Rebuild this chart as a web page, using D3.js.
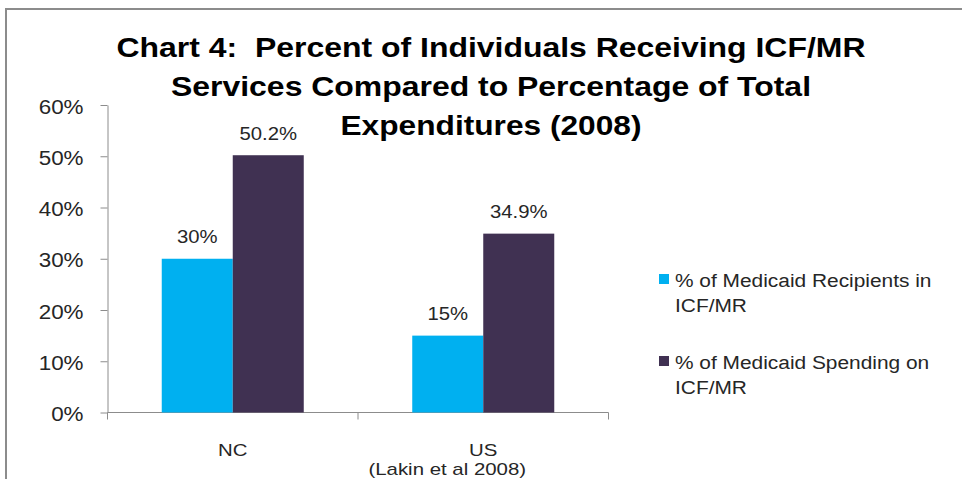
<!DOCTYPE html>
<html><head><meta charset="utf-8">
<script src="https://cdn.jsdelivr.net/npm/d3@7"></script>
<style>body{margin:0;background:#fff}svg{display:block}text{font-family:"Liberation Sans",Arial,sans-serif}</style>
</head><body><svg id="c" width="962" height="479"></svg>
<script>
const categories = ["NC", "US"];
const categorySub = ["", "(Lakin et al 2008)"];
const seriesNames = ["% of Medicaid Recipients in ICF/MR", "% of Medicaid Spending on ICF/MR"];
const recipients = [0.30, 0.15];
const spending = [0.502, 0.349];
const valueLabels = [["30%", "15%"], ["50.2%", "34.9%"]];
const yTicks = [0, 0.1, 0.2, 0.3, 0.4, 0.5, 0.6];
const titleLines = ["Chart 4:  Percent of Individuals Receiving ICF/MR", "Services Compared to Percentage of Total", "Expenditures (2008)"];
const legendLines = [["% of Medicaid Recipients in", "ICF/MR"], ["% of Medicaid Spending on", "ICF/MR"]];
const colors = ["#00B0F0", "#403152"];

const series = [recipients, spending];
const svg = d3.select("#c");
const K = 1.16;
function stretch(sel, k) {
  sel.each(function () {
    const w = this.getComputedTextLength();
    this.setAttribute("textLength", w * k);
    this.setAttribute("lengthAdjust", "spacingAndGlyphs");
  });
}

// frame
svg.append("path").attr("d", "M6,479V9H962").attr("fill", "none").attr("stroke", "#8c8c8c").attr("stroke-width", 2);

const left = 107.5, right = 608.5;
const y = d3.scaleLinear().domain([0, 0.6]).range([412.5, 105]);
const x0 = d3.scaleBand().domain(categories).range([left, right]).padding(0);
const x1 = d3.scaleBand().domain(d3.range(series.length)).range([0, x0.bandwidth()]).paddingInner(0).paddingOuter(0.764);

// y axis
const ya = svg.append("g").attr("transform", `translate(${left},0)`)
  .call(d3.axisLeft(y).tickValues(yTicks).tickFormat(d3.format(".0%")).tickSize(7).tickSizeOuter(0).tickPadding(17));
ya.select(".domain").attr("stroke", "#8c8c8c");
ya.selectAll(".tick line").attr("stroke", "#8c8c8c");
ya.selectAll(".tick text").attr("font-size", 20).attr("fill", "#262626").attr("font-family", '"Liberation Sans",Arial,sans-serif').attr("dy", "0.4em");
stretch(ya.selectAll(".tick text"), 1.12);

// x axis
const xa = svg.append("g");
xa.append("line").attr("x1", left).attr("x2", right).attr("y1", y(0)).attr("y2", y(0)).attr("stroke", "#8c8c8c");
const edges = categories.map(c => x0(c)).concat([x0(categories[categories.length - 1]) + x0.bandwidth()]);
xa.selectAll("line.t").data(edges).join("line").attr("class", "t")
  .attr("x1", d => d).attr("x2", d => d).attr("y1", y(0)).attr("y2", y(0) + 7).attr("stroke", "#8c8c8c");
const xl = xa.selectAll("text.c").data(categories).join("text").attr("class", "c")
  .attr("x", d => x0(d) + x0.bandwidth() / 2).attr("y", 455.5).attr("text-anchor", "middle")
  .attr("font-size", 17).attr("fill", "#262626").text(d => d);
stretch(xl, 1.2);
const xs = xa.selectAll("text.s").data(categorySub.map((s, i) => ({ s, c: categories[i] })).filter(d => d.s)).join("text").attr("class", "s")
  .attr("x", d => x0(d.c) + x0.bandwidth() / 2 - 36).attr("y", 475).attr("text-anchor", "middle")
  .attr("font-size", 17).attr("fill", "#262626").text(d => d.s);
stretch(xs, 1.2);

// bars
const groups = svg.selectAll("g.grp").data(categories).join("g").attr("class", "grp")
  .attr("transform", c => `translate(${x0(c)},0)`);
groups.selectAll("rect").data((c, ci) => series.map((s, si) => ({ si, v: s[ci], lab: valueLabels[si][ci] })))
  .join("rect")
  .attr("x", d => x1(d.si)).attr("width", x1.bandwidth())
  .attr("y", d => y(d.v)).attr("height", d => y(0) - y(d.v))
  .attr("fill", d => colors[d.si]);
const vl = groups.selectAll("text.v").data((c, ci) => series.map((s, si) => ({ si, v: s[ci], lab: valueLabels[si][ci] })))
  .join("text").attr("class", "v")
  .attr("x", d => x1(d.si) + x1.bandwidth() / 2).attr("y", d => y(d.v) - 15.5)
  .attr("text-anchor", "middle").attr("font-size", 17.5).attr("fill", "#262626").text(d => d.lab);
stretch(vl, K);

// title
const tW = [749, 640, 301];
svg.selectAll("text.title").data(titleLines).join("text").attr("class", "title")
  .attr("x", 491).attr("y", (d, i) => 57 + i * 39).attr("text-anchor", "middle")
  .attr("font-size", 28).attr("font-weight", "bold").attr("fill", "#000")
  .style("white-space", "pre")
  .attr("textLength", (d, i) => tW[i]).attr("lengthAdjust", "spacingAndGlyphs")
  .text(d => d);

// legend
const lg = svg.selectAll("g.lg").data(seriesNames).join("g").attr("class", "lg")
  .attr("transform", (d, i) => `translate(659,${274 + i * 82})`);
lg.append("rect").attr("width", 10).attr("height", 10).attr("fill", (d, i) => colors[i]);
const lt = lg.selectAll("text").data((d, i) => legendLines[i]).join("text")
  .attr("x", 16).attr("y", (d, j) => 13 + j * 25).attr("font-size", 18).attr("fill", "#262626").text(d => d);
stretch(lt, K);
</script></body></html>
